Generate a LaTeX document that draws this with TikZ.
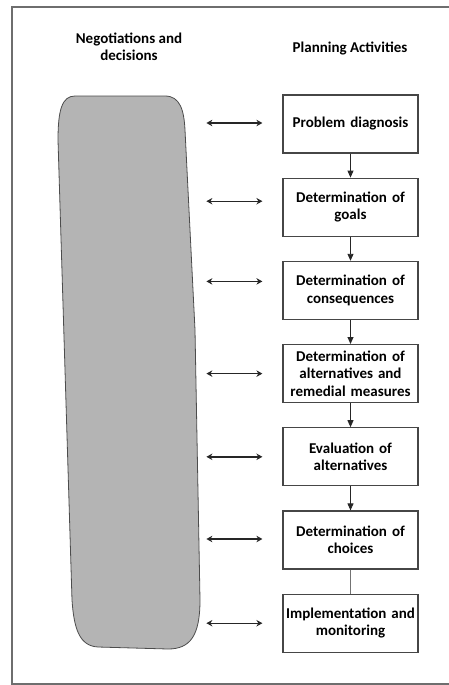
\documentclass[tikz,border=0pt]{standalone}
\usepackage{fontspec}
\setmainfont{Carlito}
\usepackage{tikz}
\usetikzlibrary{arrows.meta,positioning}
\definecolor{rahmen}{RGB}{110,110,110}
\definecolor{kasten}{RGB}{70,70,70}
\definecolor{blobgrau}{RGB}{180,180,180}
\tikzset{
  activity/.style={rectangle, draw=kasten, line width=1.2pt, minimum width=135pt, minimum height=58pt, text width=130pt, align=center, inner sep=2pt, font=\bfseries\fontsize{15}{17.5}\selectfont},
  header/.style={align=center, font=\bfseries\fontsize{15}{17.5}\selectfont},
  flow/.style={draw=black!85, line width=0.9pt, -{Triangle[length=7pt,width=6pt]}},
  link/.style={draw=black!55, line width=0.8pt},
  wechsel/.style={draw=black!85, line width=1.4pt, {Stealth[length=6pt,width=6.5pt]}-{Stealth[length=6pt,width=6.5pt]}},
  frame/.style={draw=rahmen, line width=1.3pt}
}

\begin{document}
\begin{tikzpicture}[x=1pt, y=-1pt, node distance=24pt]
\useasboundingbox (0,0) rectangle (449,685);
\draw[frame] (460,7) -- (12,7) -- (12,684) -- (460,684);

% headings
\node[header] (h-neg) at (129,47) {Negotiations and\\decisions};
\node[header] (h-plan) at (350,48) {Planning Activities};

% negotiation column
\filldraw[fill=blobgrau, draw=black!70, line width=0.8pt]
  (75,96) -- (165,96) .. controls (180,96) and (184,110) .. (185,130)
  -- (195,330) -- (200,600) .. controls (200,636) and (190,649) .. (168,649)
  -- (98,647) .. controls (80,646) and (74,630) .. (72,600)
  -- (58,140) .. controls (58,110) and (62,96) .. (75,96) -- cycle;

% planning steps
\node[activity] (p1) at (350.5,124) {Problem diagnosis};
\node[activity, below=of p1] (p2) {Determination of\\goals};
\node[activity, below=of p2] (p3) {Determination of\\consequences};
\node[activity, below=of p3] (p4) {Determination of\\alternatives and\\remedial measures};
\node[activity, below=of p4] (p5) {Evaluation of\\alternatives};
\node[activity, below=of p5] (p6) {Determination of\\choices};
\node[activity, below=of p6] (p7) {Implementation and\\monitoring};

\draw[flow] (p1) -- (p2);
\draw[flow] (p2) -- (p3);
\draw[flow] (p3) -- (p4);
\draw[flow] (p4) -- (p5);
\draw[flow] (p5) -- (p6);
\draw[link] (p6) -- (p7);

% exchange with negotiations
\foreach \i/\dy in {1/1,2/6,3/9,4/0,5/0,6/1,7/0}{
  \coordinate (l\i) at ([xshift=-76pt, yshift=\dy pt]p\i.west);
  \coordinate (r\i) at ([xshift=-20pt, yshift=\dy pt]p\i.west);
  \draw[wechsel] (l\i) -- (r\i);
}

\end{tikzpicture}
\end{document}
